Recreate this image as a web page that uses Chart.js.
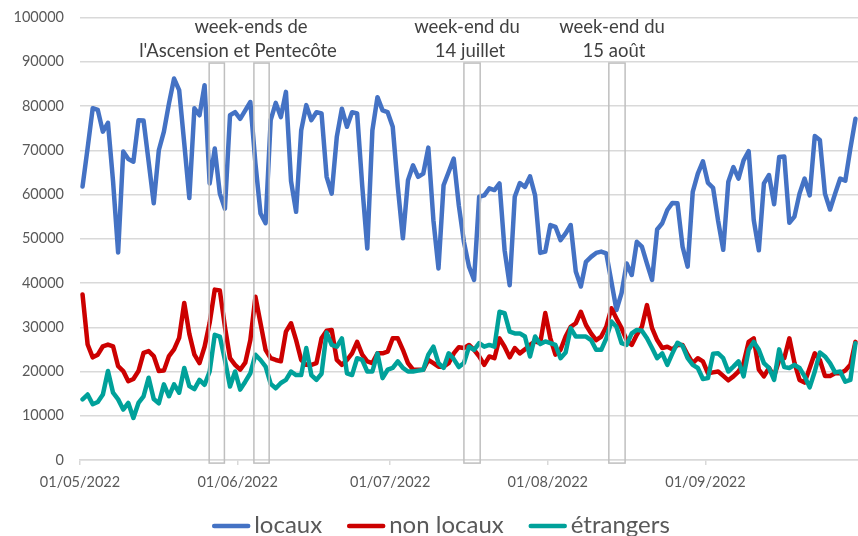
<!DOCTYPE html>
<html>
<head>
<meta charset="utf-8">
<script src="https://cdn.jsdelivr.net/npm/chart.js@4.4.1/dist/chart.umd.min.js"></script>
<style>
  html, body { margin: 0; padding: 0; background: #fff; }
  #wrap { width: 858px; height: 536px; position: relative; }
</style>
</head>
<body>
<div id="wrap"><canvas id="chart"></canvas></div>
<script>
// valeurs journalières, du 01/05/2022 au 30/09/2022
const locaux = [
  61800, 70500, 79500, 79100, 74200, 76200, 63000, 46900, 69700, 68000,
  67400, 76800, 76700, 67400, 58000, 70000, 74200, 80600, 86200, 83600,
  71600, 59200, 79500, 77900, 84700, 62500, 70400, 60200, 56800, 77900,
  78600, 77100, 79000, 80900, 67000, 55700, 53500, 76800, 80700, 77500,
  83200, 63000, 56100, 74500, 80200, 76800, 78600, 78300, 64000, 60200,
  73000, 79400, 75300, 78600, 78300, 62000, 47800, 74500, 82000, 79000,
  78600, 75300, 61700, 50100, 63200, 66600, 64000, 64700, 70600, 54200,
  43300, 62100, 65100, 68100, 57500, 49300, 43700, 40700, 59500, 59800,
  61400, 61000, 62500, 47400, 39500, 59500, 62600, 61700, 64100, 59800,
  46800, 47100, 53100, 52700, 49700, 51200, 53100, 42600, 39200, 44800,
  45900, 46800, 47100, 46700, 40300, 33900, 37700, 44400, 41800, 49300,
  48200, 44400, 40700, 52100, 53500, 56500, 58100, 58000, 48200, 43700,
  60600, 64700, 67500, 62600, 61500, 54000, 47500, 62900, 66200, 63600,
  67700, 69800, 54200, 47400, 62500, 64400, 57800, 68500, 68600, 53600,
  55000, 60200, 63600, 59800, 73200, 72300, 60200, 56600, 60200, 63600,
  63100, 70400, 77100
];
const nonLocaux = [
  37400, 26100, 23200, 23800, 25700, 26100, 25700, 21200, 20100, 17800,
  18300, 20100, 24200, 24600, 23500, 20100, 20200, 23500, 25000, 27600,
  35500, 28500, 23800, 21900, 25600, 31000, 38500, 38300, 30100, 23000,
  21500, 20400, 22000, 27100, 36900, 30900, 24900, 23000, 22600, 22300,
  29000, 30900, 27100, 22600, 21500, 21500, 21900, 27500, 29200, 29400,
  22600, 21500, 22600, 24100, 26700, 23800, 22300, 21900, 24100, 24100,
  24500, 27500, 27500, 24900, 21900, 20400, 20400, 20400, 22600, 21900,
  21100, 21100, 21900, 24100, 25500, 25300, 26000, 24900, 23400, 21500,
  23400, 23000, 27500, 25600, 23200, 25300, 24100, 25000, 26000, 26800,
  26400, 33200, 27500, 23800, 24900, 27900, 30100, 30900, 33500, 30500,
  28600, 27100, 27900, 30100, 34300, 32000, 29800, 27100, 26000, 28300,
  30100, 35000, 29800, 27100, 25300, 25600, 25000, 26000, 26000, 23800,
  21900, 23000, 22300, 19600, 19800, 20000, 19000, 18000, 18900, 20000,
  21900, 26700, 27500, 20400, 18900, 20800, 18900, 22600, 23000, 27500,
  22000, 18100, 17500, 20800, 24100, 22600, 19000, 19000, 19600, 19600,
  20200, 21500, 26700
];
const etrangers = [
  13700, 14800, 12600, 13100, 14800, 20100, 15200, 13700, 11400, 12900,
  9500, 12900, 14400, 18600, 13800, 12800, 17100, 14400, 17100, 15200,
  20800, 16700, 16000, 18100, 17000, 20000, 28300, 27900, 22600, 16600,
  20000, 15900, 17700, 19600, 23800, 22600, 21100, 17200, 16200, 17400,
  18100, 20000, 19200, 19200, 25300, 19200, 18100, 19500, 28800, 26000,
  25600, 27500, 19600, 19200, 23000, 22600, 20000, 20000, 24100, 18500,
  20400, 20800, 22300, 20800, 20000, 20000, 20200, 20400, 23800, 25600,
  21900, 20800, 24100, 22800, 21000, 21900, 25600, 24900, 26400, 25600,
  26000, 25600, 33500, 33200, 29000, 28600, 28600, 27900, 23400, 27900,
  26200, 26800, 26400, 26000, 23000, 24300, 29800, 27900, 27900, 27900,
  27100, 24900, 24900, 27500, 31300, 30100, 26400, 26000, 28600, 29400,
  29200, 27500, 25300, 23000, 24100, 21500, 24100, 26500, 25800, 23000,
  21500, 20800, 18300, 18500, 24000, 24100, 23000, 20000, 21100, 22300,
  18900, 24900, 26700, 24900, 21900, 20800, 18100, 25000, 21000, 20800,
  21500, 20800, 18900, 16400, 20000, 24300, 23400, 21900, 19800, 20000,
  17700, 18100, 26400
];

// graduations de l'axe des dates (jour depuis le 01/05)
const monthStarts = [0, 31, 61, 92, 123];
const monthLabels = ['01/05/2022', '01/06/2022', '01/07/2022', '01/08/2022', '01/09/2022'];

// cadres des week-ends (en jours depuis le 01/05)
const weekendBoxes = [[25.4, 28.4], [34.2, 37.2], [75.5, 78.7], [104.0, 107.2]];
const noteLines = [
  ['week-ends de', "l'Ascension et Pentecôte"],
  ['week-end du', '14 juillet'],
  ['week-end du', '15 août']
];

const FONT = 'Lato';
const TEXT_COLOR = '#595959';
const toPoints = arr => arr.map((v, i) => ({ x: i + 0.5, y: v }));

// cadres gris + textes au-dessus
const annotations = {
  id: 'annotations',
  afterDatasetsDraw(chart) {
    const { ctx, scales: { x, y } } = chart;
    ctx.save();
    ctx.strokeStyle = '#bfbfbf';
    ctx.lineWidth = 1.5;
    const top = y.getPixelForValue(89700);
    const bottom = y.getPixelForValue(-700);
    weekendBoxes.forEach(([a, b]) => {
      const x0 = x.getPixelForValue(a);
      const x1 = x.getPixelForValue(b);
      ctx.strokeRect(x0, top, x1 - x0, bottom - top);
    });

    const centers = [[251, 238], [467, 470], [612, 614]];
    ctx.fillStyle = '#404040';
    ctx.font = '18.5px ' + FONT;
    ctx.textAlign = 'center';
    ctx.textBaseline = 'middle';
    noteLines.forEach((lines, k) => {
      lines.forEach((t, j) => ctx.fillText(t, centers[k][j], 27 + j * 24));
    });
    ctx.restore();
  }
};

// légende en bas, trait + libellé serrés comme dans Excel
const bottomLegend = {
  id: 'bottomLegend',
  afterDraw(chart) {
    const ctx = chart.ctx;
    ctx.save();
    ctx.font = '24px ' + FONT;
    const items = chart.data.datasets.map(ds => ({
      text: ds.label,
      color: ds.borderColor,
      w: ctx.measureText(ds.label).width
    }));
    const lineW = 38, gap = 4, spacing = 25;
    const total = items.reduce((s, it) => s + lineW + gap + it.w, 0) + spacing * (items.length - 1);
    let x = 441 - total / 2;
    const y = 525;
    items.forEach(it => {
      ctx.strokeStyle = it.color;
      ctx.lineWidth = 4.5;
      ctx.lineCap = 'round';
      ctx.beginPath();
      ctx.moveTo(x + 2, y + 1);
      ctx.lineTo(x + lineW - 2, y + 1);
      ctx.stroke();
      ctx.fillStyle = TEXT_COLOR;
      ctx.textAlign = 'left';
      ctx.textBaseline = 'middle';
      ctx.fillText(it.text, x + lineW + gap, y);
      x += lineW + gap + it.w + spacing;
    });
    ctx.restore();
  }
};

const lineStyle = {
  borderWidth: 4.5,
  pointRadius: 0,
  pointHoverRadius: 0,
  tension: 0,
  borderJoinStyle: 'round',
  borderCapStyle: 'round',
  fill: false
};

new Chart(document.getElementById('chart'), {
  type: 'line',
  data: {
    datasets: [
      { label: 'locaux', data: toPoints(locaux), borderColor: '#4472C4', order: 2, ...lineStyle },
      { label: 'non locaux', data: toPoints(nonLocaux), borderColor: '#CC0000', order: 1, ...lineStyle },
      { label: 'étrangers', data: toPoints(etrangers), borderColor: '#00A19A', order: 0, ...lineStyle }
    ]
  },
  options: {
    responsive: true,
    maintainAspectRatio: false,
    animation: false,
    layout: { padding: { top: 17.5, right: 0, bottom: 42, left: 0 } },
    plugins: {
      tooltip: { enabled: false },
      legend: { display: false }
    },
    scales: {
      x: {
        type: 'linear',
        min: 0,
        max: 153,
        afterBuildTicks: s => { s.ticks = monthStarts.map(v => ({ value: v })); },
        afterFit: s => { s.height = 34; },
        ticks: {
          autoSkip: false,
          maxRotation: 0,
          padding: 9,
          color: TEXT_COLOR,
          font: { family: FONT, size: 14.5 },
          callback: (v, i) => monthLabels[i]
        },
        grid: { drawOnChartArea: false, drawTicks: true, tickLength: 5, color: '#d9d9d9', lineWidth: 1.5 },
        border: { color: '#d9d9d9', width: 1.5 }
      },
      y: {
        min: 0,
        max: 100000,
        afterFit: s => { s.width = 80; },
        ticks: {
          stepSize: 10000,
          padding: 0,
          color: TEXT_COLOR,
          font: { family: FONT, size: 14.5 },
          callback: v => String(v)
        },
        // marques invisibles : elles servent seulement à écarter les libellés
        grid: { color: '#d9d9d9', lineWidth: 1.5, drawTicks: true, tickLength: 16, tickColor: 'rgba(0,0,0,0)' },
        border: { display: false }
      }
    }
  },
  plugins: [annotations, bottomLegend]
});
</script>
</body>
</html>
